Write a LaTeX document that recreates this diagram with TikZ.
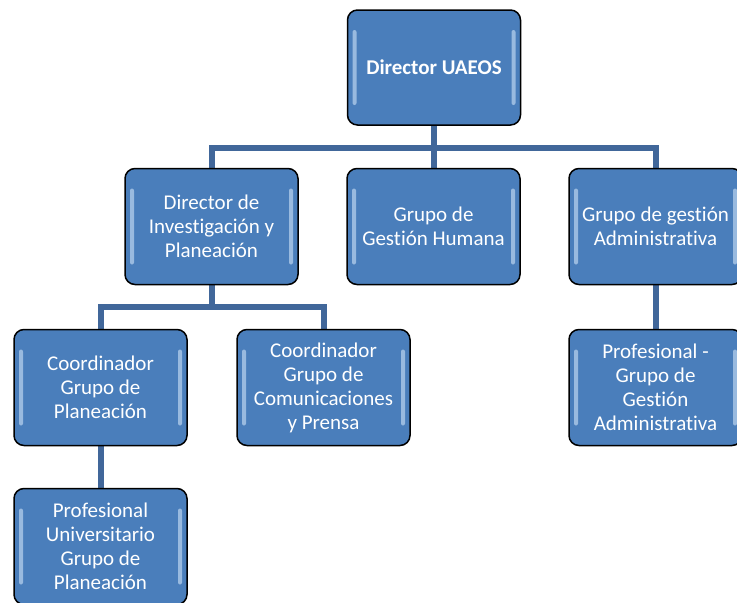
\documentclass[tikz,border=0pt]{standalone}
\usepackage{fontspec}
\setmainfont{Carlito}[Ligatures={NoCommon}]
\usetikzlibrary{backgrounds}
\definecolor{boxfill}{HTML}{4A7EBB}
\definecolor{linec}{HTML}{41679A}
\definecolor{hl}{HTML}{CFE3F7}
\tikzset{
  orgbox/.style={draw=black, line width=1.5pt, rounded corners=10pt, fill=boxfill,
    minimum width=173pt, minimum height=116pt, text=white, align=center,
    font=\fontsize{21}{24}\selectfont, inner sep=1pt,
    path picture={
      \fill[hl, opacity=0.6, rounded corners=2pt]
        ([xshift=5pt,yshift=-20pt]path picture bounding box.north west) rectangle
        ([xshift=9pt,yshift=20pt]path picture bounding box.south west);
      \fill[hl, opacity=0.6, rounded corners=2pt]
        ([xshift=-5pt,yshift=-20pt]path picture bounding box.north east) rectangle
        ([xshift=-9pt,yshift=20pt]path picture bounding box.south east);
    }},
  conn/.style={draw=linec, line width=6pt}
}
\begin{document}
\begin{tikzpicture}[x=1pt,y=-1pt]
\useasboundingbox (0,0) rectangle (737,603);
\clip (0,0) rectangle (737,603);
\node[orgbox, minimum height=115pt] (top) at (434,67.5) {\textbf{Director UAEOS}};
\node[orgbox] (inv) at (211.5,226.5) {Director de\\Investigación y\\Planeación};
\node[orgbox] (hum) at (433.5,226.5) {Grupo de\\Gestión Humana};
\node[orgbox] (adm) at (655.5,226.5) {Grupo de gestión\\Administrativa};
\node[orgbox] (coord) at (100.5,387.5) {Coordinador\\Grupo de\\Planeación};
\node[orgbox] (com) at (323.5,387.5) {Coordinador\\Grupo de\\Comunicaciones\\y Prensa};
\node[orgbox] (prof) at (655.5,387.5) {Profesional -\\Grupo de\\Gestión\\Administrativa};
\node[orgbox] (univ) at (100.5,546.5) {Profesional\\Universitario\\Grupo de\\Planeación};
\coordinate (b1) at (0,148);
\coordinate (b2) at (0,307);
\begin{scope}[on background layer]
\draw[conn] (top.south) -- (top.south |- b1);
\draw[conn] (inv.north) -- (inv.north |- b1) -- (adm.north |- b1) -- (adm.north);
\draw[conn] (hum.north) -- (hum.north |- b1);
\draw[conn] (inv.south) -- (inv.south |- b2);
\draw[conn] (coord.north) -- (coord.north |- b2) -- (com.north |- b2) -- (com.north);
\draw[conn] (adm.south) -- (prof.north);
\draw[conn] (coord.south) -- (univ.north);
\end{scope}
\end{tikzpicture}
\end{document}
